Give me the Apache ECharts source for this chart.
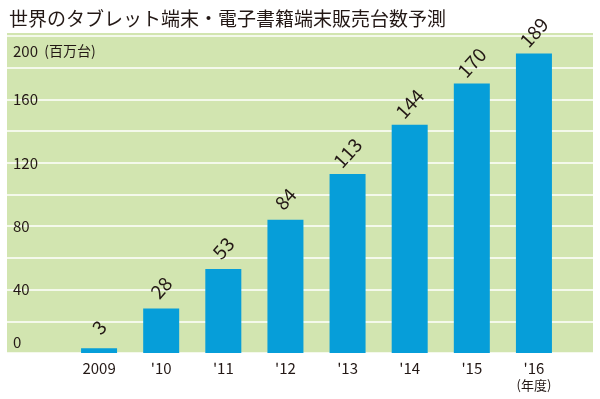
<!DOCTYPE html>
<html><head><meta charset="utf-8">
<script src="https://cdn.jsdelivr.net/npm/echarts@6/dist/echarts.min.js"></script>
<style>html,body{margin:0;padding:0;background:#fff}#c{width:600px;height:399px}</style>
</head><body><div id="c"></div>
<script>
const titleText = '世界のタブレット端末・電子書籍端末販売台数予測';
const categories = ['2009', "'10", "'11", "'12", "'13", "'14", "'15", "'16"];
const values = [3, 28, 53, 84, 113, 144, 170, 189];
const yTicks = [0, 40, 80, 120, 160, 200];
const unitLabel = '(百万台)';
const yearUnit = '(年度)';

const FONT = '"Noto Sans CJK JP", "Noto Sans", sans-serif';
const chart = echarts.init(document.getElementById('c'));
chart.setOption({
  animation: false,
  backgroundColor: '#ffffff',
  textStyle: { fontFamily: FONT },
  title: { text: titleText, left: 4, top: 4, textStyle: { fontFamily: FONT, fontSize: 19, fontWeight: 'normal', color: '#231815' } },
  graphic: [{ type: 'rect', left: 7, top: 33, shape: { width: 586, height: 320 }, style: { fill: '#d2e5b0' }, z: -10 }],
  grid: [
    { left: 7, right: 7, top: 36, bottom: 46, containLabel: false, outerBoundsMode: 'none' },
    { left: 68, width: 497, top: 36, bottom: 46, containLabel: false, outerBoundsMode: 'none' }
  ],
  xAxis: [
    { gridIndex: 0, type: 'value', min: 0, max: 1, show: false },
    { gridIndex: 1, type: 'category', data: categories,
      axisLine: { show: false }, axisTick: { show: false },
      axisLabel: { interval: 0, margin: 8, fontSize: 15, color: '#231815', fontFamily: FONT,
        formatter: (v, i) => i === categories.length - 1 ? v + '\n{u|' + yearUnit + '}' : v,
        rich: { u: { fontSize: 13, color: '#231815', lineHeight: 18, fontFamily: FONT } } } }
  ],
  yAxis: [
    { gridIndex: 0, type: 'value', min: 0, max: 200, interval: 20,
      axisLine: { show: false }, axisTick: { show: false },
      splitLine: { show: true, lineStyle: { color: '#ffffff', width: 1.5 } },
      axisLabel: { inside: true, margin: 6, fontSize: 15, color: '#231815', fontFamily: FONT, lineHeight: 22,
        formatter: v => {
          if (v === 0) return '0\n';
          if (v === 200) return '{e| }\n{n|200}{u|  ' + unitLabel + '}';
          return yTicks.indexOf(v) >= 0 ? String(v) : '';
        },
        rich: { e: { fontSize: 14, lineHeight: 30 },
                n: { fontSize: 15, color: '#231815', lineHeight: 30, fontFamily: FONT },
                u: { fontSize: 14, color: '#231815', lineHeight: 30, fontFamily: FONT } } } },
    { gridIndex: 1, type: 'value', min: 0, max: 200, interval: 20, show: false, splitLine: { show: false } }
  ],
  series: [{
    type: 'bar', xAxisIndex: 1, yAxisIndex: 1, data: values, barWidth: 36,
    itemStyle: { color: '#069ed9' },
    label: { show: true, position: 'top', distance: 21, rotate: 48, align: 'center', verticalAlign: 'middle',
      fontSize: 19, color: '#231815', fontFamily: FONT }
  }]
});
</script></body></html>
